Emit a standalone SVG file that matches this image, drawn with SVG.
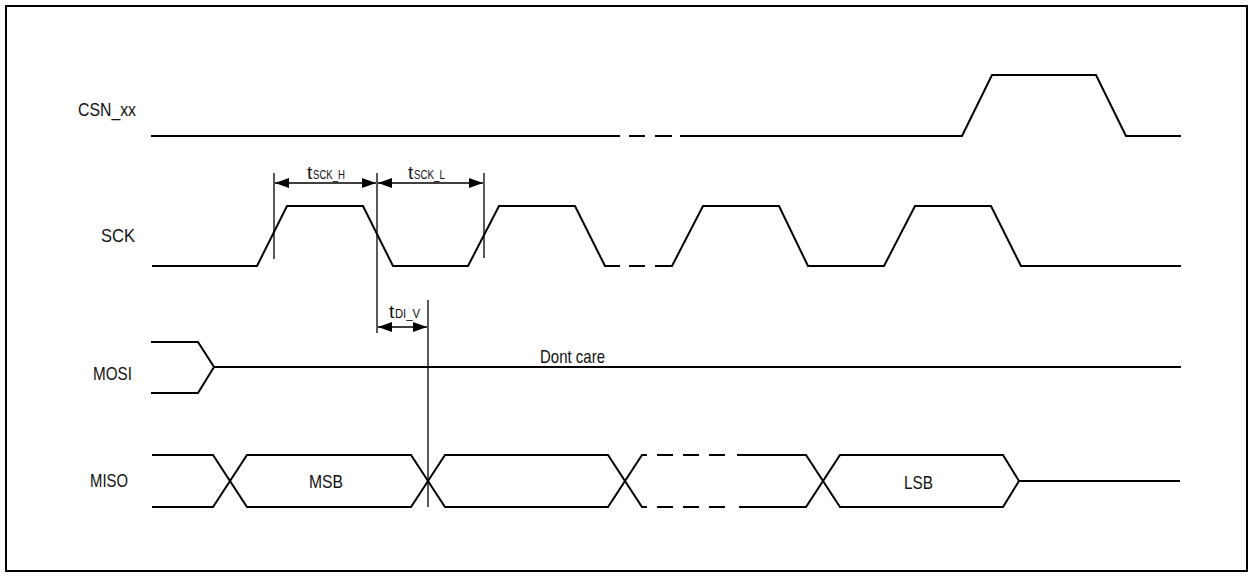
<svg xmlns="http://www.w3.org/2000/svg" width="1253" height="577" viewBox="0 0 1253 577">
<style>
.sig{fill:none;stroke:#000;stroke-width:2;stroke-linejoin:miter}
.thin{fill:none;stroke:#000;stroke-width:1.3}
.lbl{font-family:"Liberation Sans Narrow","Liberation Sans",Arial,sans-serif;font-size:19px;fill:#111}
.sub{font-family:"Liberation Sans Narrow","Liberation Sans",Arial,sans-serif;font-size:12.5px;fill:#111}
</style>
<defs>
<marker id="ah" viewBox="0 0 14 10" refX="14" refY="5" markerWidth="14" markerHeight="10" markerUnits="userSpaceOnUse" orient="auto-start-reverse">
<path d="M0,0 L14,5 L0,10 Z" fill="#000"/>
</marker>
</defs>
<rect x="0" y="0" width="1253" height="577" fill="#fff"/>
<rect x="6" y="6" width="1241" height="565" fill="none" stroke="#000" stroke-width="2"/>

<g id="csn">
<text class="lbl" x="78" y="116" textLength="58" lengthAdjust="spacingAndGlyphs">CSN_xx</text>
<path class="sig" d="M151,136 H620 M629,136 H645 M655,136 H672 M680,136 H962 L992,75 H1096 L1126,136 H1181"/>
</g>

<g id="sck">
<text class="lbl" x="101" y="242" textLength="34" lengthAdjust="spacingAndGlyphs">SCK</text>
<path class="sig" d="M152,266 H257 L287,206 H363 L393,266 H468 L499,206 H575 L605,266 H620 M629,266 H645 M655,266 H672 L703,206 H779 L808,266 H884 L915,206 H991 L1021,266 H1181"/>
</g>

<g id="mosi">
<text class="lbl" x="93" y="380" textLength="39" lengthAdjust="spacingAndGlyphs">MOSI</text>
<path class="sig" d="M151,342 H198 L214,367 L198,393 H151 M214,367 H1181"/>
<text class="lbl" x="540" y="363" textLength="65" lengthAdjust="spacingAndGlyphs">Dont care</text>
</g>

<g id="miso">
<text class="lbl" x="90" y="487" textLength="38" lengthAdjust="spacingAndGlyphs">MISO</text>
<path class="sig" d="M152,455 H213 L247,507 H411 L445,455 H608 L642,507 H647"/>
<path class="sig" d="M152,507 H213 L247,455 H411 L445,507 H608 L642,455 H647"/>
<path class="sig" d="M657,455 H673 M683,455 H699 M709,455 H725 M657,507 H673 M683,507 H699 M709,507 H725"/>
<path class="sig" d="M737,455 H806 L840,507 H1003 L1019,481 H1180"/>
<path class="sig" d="M739,507 H806 L840,455 H1003 L1019,481"/>
<text class="lbl" x="309" y="488" textLength="34" lengthAdjust="spacingAndGlyphs">MSB</text>
<text class="lbl" x="904" y="489" textLength="29" lengthAdjust="spacingAndGlyphs">LSB</text>
</g>

<g id="timing">
<line class="thin" x1="274" y1="173" x2="274" y2="259"/>
<line class="thin" x1="377" y1="173" x2="377" y2="333"/>
<line class="thin" x1="484" y1="173" x2="484" y2="258"/>
<line class="thin" x1="428" y1="300" x2="428" y2="507"/>
<line class="thin" x1="275" y1="183" x2="376" y2="183" marker-start="url(#ah)" marker-end="url(#ah)"/>
<line class="thin" x1="378" y1="183" x2="483" y2="183" marker-start="url(#ah)" marker-end="url(#ah)"/>
<line class="thin" x1="378" y1="327" x2="427" y2="327" marker-start="url(#ah)" marker-end="url(#ah)"/>
<text class="lbl" x="307" y="179">t</text>
<text class="sub" x="313" y="179" textLength="32" lengthAdjust="spacingAndGlyphs">SCK_H</text>
<text class="lbl" x="408" y="179">t</text>
<text class="sub" x="414" y="179" textLength="31" lengthAdjust="spacingAndGlyphs">SCK_L</text>
<text class="lbl" x="389" y="318">t</text>
<text class="sub" x="395" y="318" textLength="25" lengthAdjust="spacingAndGlyphs">DI_V</text>
</g>
</svg>
